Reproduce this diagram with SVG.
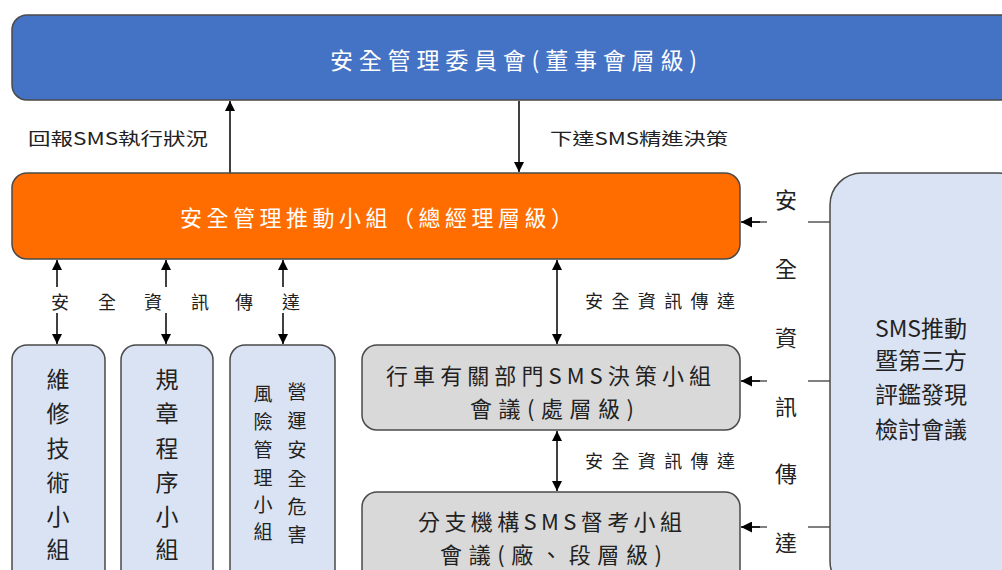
<svg xmlns="http://www.w3.org/2000/svg" width="1002" height="570" viewBox="0 0 1002 570">
<defs>
<marker id="ah" viewBox="0 0 10 10" refX="10" refY="5" markerWidth="10" markerHeight="10" markerUnits="userSpaceOnUse" orient="auto-start-reverse">
<path d="M0,0 L10,5 L0,10 z" fill="#000"/>
</marker>
<marker id="ahs" viewBox="0 0 10 10" refX="10" refY="5" markerWidth="11" markerHeight="11" markerUnits="userSpaceOnUse" orient="auto">
<path d="M0,0 L10,5 L0,10 z" fill="#000"/>
</marker>
</defs>
<style>
text{font-family:"Noto Sans CJK TC","Noto Sans CJK SC",sans-serif;dominant-baseline:central;}
.w{fill:#fff;}
.d{fill:#222;}
.c{text-anchor:middle;}
.box{stroke:#4a4a4a;stroke-width:1.5;}
.lb{fill:#dae3f3;}
.gr{fill:#d9d9d9;}
.ln{stroke:#000;stroke-width:1.5;fill:none;}
.gl{stroke:#808080;stroke-width:2;fill:none;}
</style>
<rect width="1002" height="570" fill="#fff"/>

<g id="connectors">
<line class="ln" x1="230" y1="173" x2="230" y2="101" marker-end="url(#ah)"/>
<line class="ln" x1="519" y1="101" x2="519" y2="172" marker-end="url(#ah)"/>
<line class="ln" x1="57" y1="260" x2="57" y2="344" marker-start="url(#ah)" marker-end="url(#ah)"/>
<line class="ln" x1="166" y1="260" x2="166" y2="344" marker-start="url(#ah)" marker-end="url(#ah)"/>
<line class="ln" x1="283" y1="260" x2="283" y2="344" marker-start="url(#ah)" marker-end="url(#ah)"/>
<line class="ln" x1="557" y1="260" x2="557" y2="344" marker-start="url(#ah)" marker-end="url(#ah)"/>
<line class="ln" x1="557" y1="431" x2="557" y2="491" marker-start="url(#ah)" marker-end="url(#ah)"/>
<line class="gl" x1="830" y1="222" x2="752" y2="222"/>
<line class="ln" x1="760" y1="222" x2="741" y2="222" marker-end="url(#ahs)"/>
<line class="gl" x1="830" y1="381" x2="752" y2="381"/>
<line class="ln" x1="760" y1="381" x2="741" y2="381" marker-end="url(#ahs)"/>
<line class="gl" x1="830" y1="527" x2="752" y2="527"/>
<line class="ln" x1="760" y1="527" x2="741" y2="527" marker-end="url(#ahs)"/>
<rect x="33" y="287" width="285" height="26" fill="#fff"/>
<rect x="767" y="175" width="41" height="395" fill="#fff"/>
<text class="d" x="28" y="137" font-size="17" textLength="180" lengthAdjust="spacingAndGlyphs">回報SMS執行狀況</text>
<text class="d" x="550" y="137" font-size="17" textLength="178" lengthAdjust="spacingAndGlyphs">下達SMS精進決策</text>
<g class="d c" font-size="18">
<text x="60" y="301">安</text>
<text x="107" y="301">全</text>
<text x="153" y="301">資</text>
<text x="200" y="301">訊</text>
<text x="244" y="301">傳</text>
<text x="291" y="301">達</text>
</g>
<text class="d" x="585" y="300" font-size="18" textLength="150" lengthAdjust="spacing">安全資訊傳達</text>
<text class="d" x="585" y="460" font-size="18" textLength="150" lengthAdjust="spacing">安全資訊傳達</text>
<g class="d c" font-size="22">
<text x="786" y="198">安</text>
<text x="786" y="267">全</text>
<text x="786" y="336">資</text>
<text x="786" y="405">訊</text>
<text x="786" y="472">傳</text>
<text x="786" y="541">達</text>
</g>
</g>

<g id="n-board">
<rect class="box" x="12" y="15" width="1010" height="85" rx="15" fill="#4472c4"/>
<text class="w" x="330" y="59" font-size="23" textLength="367" lengthAdjust="spacing">安全管理委員會(董事會層級)</text>
</g>

<g id="n-gm">
<rect class="box" x="12" y="173" width="728" height="86" rx="15" fill="#ff6d00"/>
<text class="w" x="180" y="216" font-size="22" textLength="393" lengthAdjust="spacing">安全管理推動小組（總經理層級）</text>
</g>

<g id="n-maint">
<rect class="box lb" x="12" y="345" width="93" height="240" rx="15"/>
<g class="d c" font-size="23">
<text x="58" y="378">維</text>
<text x="58" y="412">修</text>
<text x="58" y="447">技</text>
<text x="58" y="481">術</text>
<text x="58" y="515">小</text>
<text x="58" y="548">組</text>
</g>
</g>

<g id="n-rules">
<rect class="box lb" x="121" y="345" width="92" height="240" rx="15"/>
<g class="d c" font-size="23">
<text x="167" y="378">規</text>
<text x="167" y="412">章</text>
<text x="167" y="447">程</text>
<text x="167" y="481">序</text>
<text x="167" y="515">小</text>
<text x="167" y="548">組</text>
</g>
</g>

<g id="n-risk">
<rect class="box lb" x="230" y="345" width="105" height="240" rx="15"/>
<g class="d c" font-size="19">
<text x="297" y="390">營</text>
<text x="297" y="419">運</text>
<text x="297" y="448">安</text>
<text x="297" y="477">全</text>
<text x="297" y="505">危</text>
<text x="297" y="533">害</text>
<text x="263" y="392">風</text>
<text x="263" y="420">險</text>
<text x="263" y="448">管</text>
<text x="263" y="476">理</text>
<text x="263" y="503">小</text>
<text x="263" y="530">組</text>
</g>
</g>

<g id="n-dept">
<rect class="box gr" x="362" y="345" width="378" height="85" rx="15"/>
<text class="d" x="386" y="374" font-size="22" textLength="325" lengthAdjust="spacing">行車有關部門SMS決策小組</text>
<text class="d" x="470" y="407" font-size="22" textLength="164" lengthAdjust="spacing">會議(處層級)</text>
</g>

<g id="n-branch">
<rect class="box gr" x="362" y="492" width="378" height="100" rx="15"/>
<text class="d" x="418" y="520" font-size="22" textLength="264" lengthAdjust="spacing">分支機構SMS督考小組</text>
<text class="d" x="440" y="553" font-size="22" textLength="222" lengthAdjust="spacing">會議(廠、段層級)</text>
</g>

<g id="n-review">
<rect class="box lb" x="830" y="173" width="200" height="420" rx="32"/>
<g class="d c" font-size="23">
<text x="921" y="327">SMS推動</text>
<text x="921" y="359">暨第三方</text>
<text x="921" y="393">評鑑發現</text>
<text x="921" y="428">檢討會議</text>
</g>
</g>
</svg>
